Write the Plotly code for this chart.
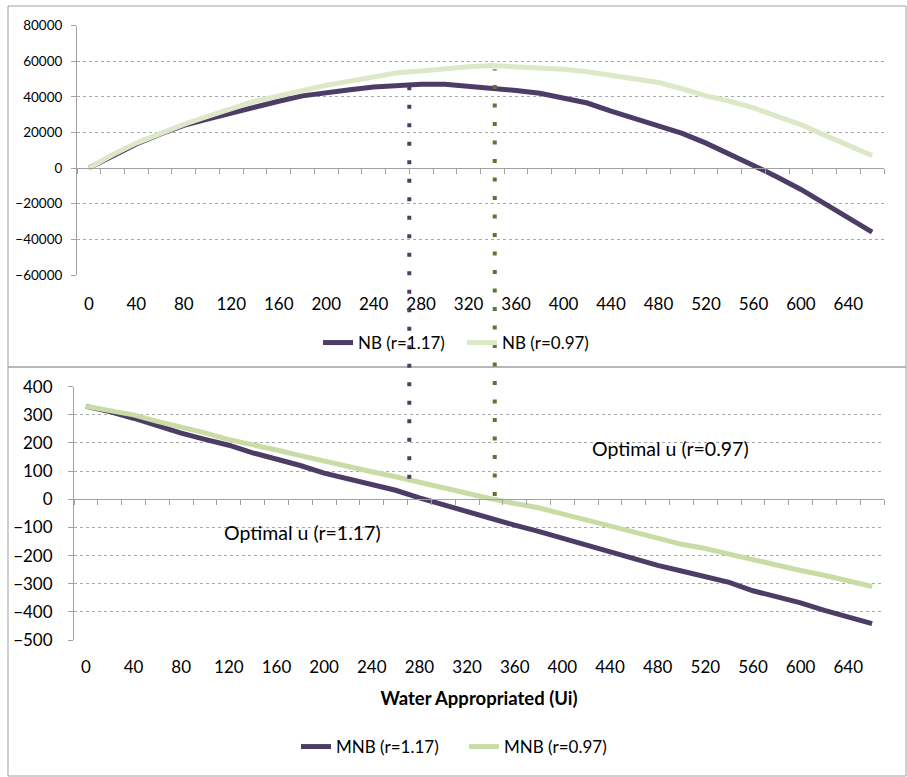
import plotly.graph_objects as go

# ---------------- data ----------------
water_u = [0, 20, 40, 60, 80, 100, 120, 140, 160, 180, 200, 220, 240, 260, 280, 300, 320,
           340, 360, 380, 400, 420, 440, 460, 480, 500, 520, 540, 560, 580, 600, 620, 640, 660]

nb_r117 = [0, 7000, 13500, 19000, 24000, 27500, 31000, 34500, 37500, 40500, 42500, 44000,
           45500, 46500, 47000, 47000, 46000, 44700, 43500, 42000, 39500, 36500, 32000, 28000,
           24000, 19500, 14000, 8000, 1500, -5000, -12000, -20000, -28000, -36000]

nb_r097 = [0, 7500, 14000, 19500, 24500, 29000, 33500, 37500, 40500, 43700, 46500, 48800,
           51000, 53500, 54500, 56000, 56800, 57500, 57000, 56300, 55500, 54000, 52000, 50000,
           48000, 44500, 40500, 37500, 33800, 29000, 24400, 18500, 12800, 7000]

mnb_r117 = [330, 312, 288, 260, 235, 213, 192, 165, 143, 120, 93, 73, 52, 32, 5, -20, -45,
            -70, -92, -114, -138, -163, -188, -210, -235, -255, -273, -295, -325, -345, -368,
            -395, -420, -442]

mnb_r097 = [330, 317, 300, 277, 258, 236, 212, 195, 175, 155, 135, 117, 98, 80, 60, 40, 20,
            2, -15, -30, -52, -73, -93, -113, -138, -160, -175, -195, -215, -235, -253, -270,
            -290, -310]

x_tick_labels = [0, 40, 80, 120, 160, 200, 240, 280, 320, 360, 400, 440, 480, 520, 560, 600, 640]
nb_ticks = [-60000, -40000, -20000, 0, 20000, 40000, 60000, 80000]
mnb_ticks = [-500, -400, -300, -200, -100, 0, 100, 200, 300, 400]

optimal_u = [270, 342]              # r=1.17, r=0.97
optimal_top_nb = [46500, 55500]     # upper end of guide lines (NB units)
optimal_bottom_mnb = [73, 12]       # lower end of guide lines (MNB units)
optimal_labels = ["Optimal u (r=1.17)", "Optimal u (r=0.97)"]
optimal_label_pos = [(182, -118), (491, 179)]

# ---------------- style ----------------
W, H = 907, 777
PURPLE = "#4D3D66"
GREEN_NB = "#DDE8C8"
GREEN_MNB = "#CADCA6"
DOT_PURPLE = "#4D3D66"
DOT_GREEN = "#5E7430"
GRID = "#A8A8A8"
AXIS = "#A0A0A0"
FONT = "Lato"
FS_SMALL = 13.5
FS = 17

X_RANGE = [-10, 670]
NB_RANGE = [-60000, 80000]
MNB_RANGE = [-500, 400]

top_xdom = [77 / W, 884 / W]
top_ydom = [1 - 275 / H, 1 - 25.5 / H]
bot_xdom = [74 / W, 884 / W]
bot_ydom = [1 - 640 / H, 1 - 386.7 / H]


def to_paper(v, rng, dom):
    return dom[0] + (v - rng[0]) / (rng[1] - rng[0]) * (dom[1] - dom[0])


boundaries = [u - 10 for u in water_u] + [water_u[-1] + 10]

fig = go.Figure()

fig.add_trace(go.Scatter(x=water_u, y=nb_r117, name="NB (r=1.17)", mode="lines",
                         line=dict(color=PURPLE, width=5), xaxis="x", yaxis="y", legend="legend"))
fig.add_trace(go.Scatter(x=water_u, y=nb_r097, name="NB (r=0.97)", mode="lines",
                         line=dict(color=GREEN_NB, width=5), xaxis="x", yaxis="y", legend="legend"))
fig.add_trace(go.Scatter(x=water_u, y=mnb_r117, name="MNB (r=1.17)", mode="lines",
                         line=dict(color=PURPLE, width=5), xaxis="x2", yaxis="y2", legend="legend2"))
fig.add_trace(go.Scatter(x=water_u, y=mnb_r097, name="MNB (r=0.97)", mode="lines",
                         line=dict(color=GREEN_MNB, width=5), xaxis="x2", yaxis="y2", legend="legend2"))

label_axis = dict(range=X_RANGE, tickmode="array", tickvals=x_tick_labels,
                  ticktext=[str(v) for v in x_tick_labels], showline=False, ticks="",
                  showgrid=False, zeroline=False, automargin=False,
                  tickfont=dict(family=FONT, size=FS, color="#000000"))

zero_axis = dict(range=X_RANGE, tickmode="array", tickvals=boundaries, showticklabels=False,
                 showline=True, linecolor=AXIS, linewidth=1, ticks="outside", ticklen=5,
                 tickcolor=AXIS, showgrid=False, zeroline=False, anchor="free", automargin=False)

y_common = dict(showline=True, linecolor=AXIS, linewidth=1, ticks="outside", ticklen=5,
                tickcolor=AXIS, showgrid=True, gridcolor=GRID, griddash="dot", gridwidth=1,
                zeroline=False, tickformat="d", automargin=False)

fig.update_layout(
    width=W, height=H,
    margin=dict(l=0, r=0, t=0, b=0, autoexpand=False),
    paper_bgcolor="white", plot_bgcolor="white",
    font=dict(family=FONT, size=FS, color="#000000"),
    xaxis=dict(domain=top_xdom, anchor="y", ticklabelstandoff=17, **label_axis),
    yaxis=dict(domain=top_ydom, anchor="x", range=NB_RANGE, tickvals=nb_ticks,
               ticklabelstandoff=6, tickfont=dict(family=FONT, size=FS_SMALL, color="#000000"),
               **y_common),
    xaxis2=dict(domain=bot_xdom, anchor="y2", ticklabelstandoff=15, **label_axis,
                title=dict(text="<b>Water Appropriated (Ui)</b>", standoff=16,
                           font=dict(family=FONT, size=18.5, color="#000000"))),
    yaxis2=dict(domain=bot_ydom, anchor="x2", range=MNB_RANGE, tickvals=mnb_ticks,
                ticklabelstandoff=12, tickfont=dict(family=FONT, size=FS, color="#000000"),
                **y_common),
    xaxis3=dict(overlaying="x", position=to_paper(0, NB_RANGE, top_ydom), **zero_axis),
    xaxis4=dict(overlaying="x2", position=to_paper(0, MNB_RANGE, bot_ydom), **zero_axis),
    legend=dict(orientation="h", x=318 / W, y=1 - 343 / H, xanchor="left", yanchor="middle",
                bgcolor="rgba(0,0,0,0)", entrywidth=99, entrywidthmode="pixels",
                font=dict(family=FONT, size=FS, color="#000000"), itemwidth=30),
    legend2=dict(orientation="h", x=296 / W, y=1 - 747 / H, xanchor="left", yanchor="middle",
                 bgcolor="rgba(0,0,0,0)", entrywidth=123, entrywidthmode="pixels",
                 font=dict(family=FONT, size=FS, color="#000000"), itemwidth=30),
    showlegend=True,
)

# invisible helper traces so the zero-line axes are drawn
fig.add_trace(go.Scatter(x=[X_RANGE[0]], y=[0], mode="markers", marker=dict(opacity=0),
                         xaxis="x3", yaxis="y", showlegend=False, hoverinfo="skip"))
fig.add_trace(go.Scatter(x=[X_RANGE[0]], y=[0], mode="markers", marker=dict(opacity=0),
                         xaxis="x4", yaxis="y2", showlegend=False, hoverinfo="skip"))

# chart frames
shapes = [
    dict(type="rect", xref="paper", yref="paper", x0=8 / W, x1=906 / W, y0=1 - 367 / H, y1=1 - 6 / H,
         line=dict(color=AXIS, width=1), fillcolor="rgba(0,0,0,0)", layer="below"),
    dict(type="rect", xref="paper", yref="paper", x0=8 / W, x1=906 / W, y0=1 - 776 / H, y1=1 - 367 / H,
         line=dict(color=AXIS, width=1), fillcolor="rgba(0,0,0,0)", layer="below"),
]
for u, top_v, bot_v, col in zip(optimal_u, optimal_top_nb, optimal_bottom_mnb, [DOT_PURPLE, DOT_GREEN]):
    shapes.append(dict(type="line", xref="x", yref="paper", x0=u, x1=u,
                       y0=to_paper(bot_v, MNB_RANGE, bot_ydom), y1=to_paper(top_v, NB_RANGE, top_ydom),
                       line=dict(color=col, width=4, dash="4px,14.5px"), layer="above"))
fig.update_layout(shapes=shapes)

for txt, (ax_u, ax_v) in zip(optimal_labels, optimal_label_pos):
    fig.add_annotation(x=ax_u, y=ax_v, xref="x2", yref="y2", text=txt, showarrow=False,
                       font=dict(family=FONT, size=19.5, color="#000000"))

fig.write_html("out.html", config={"displayModeBar": False},
               post_script="document.body.style.margin='0';document.body.style.overflow='hidden';")
